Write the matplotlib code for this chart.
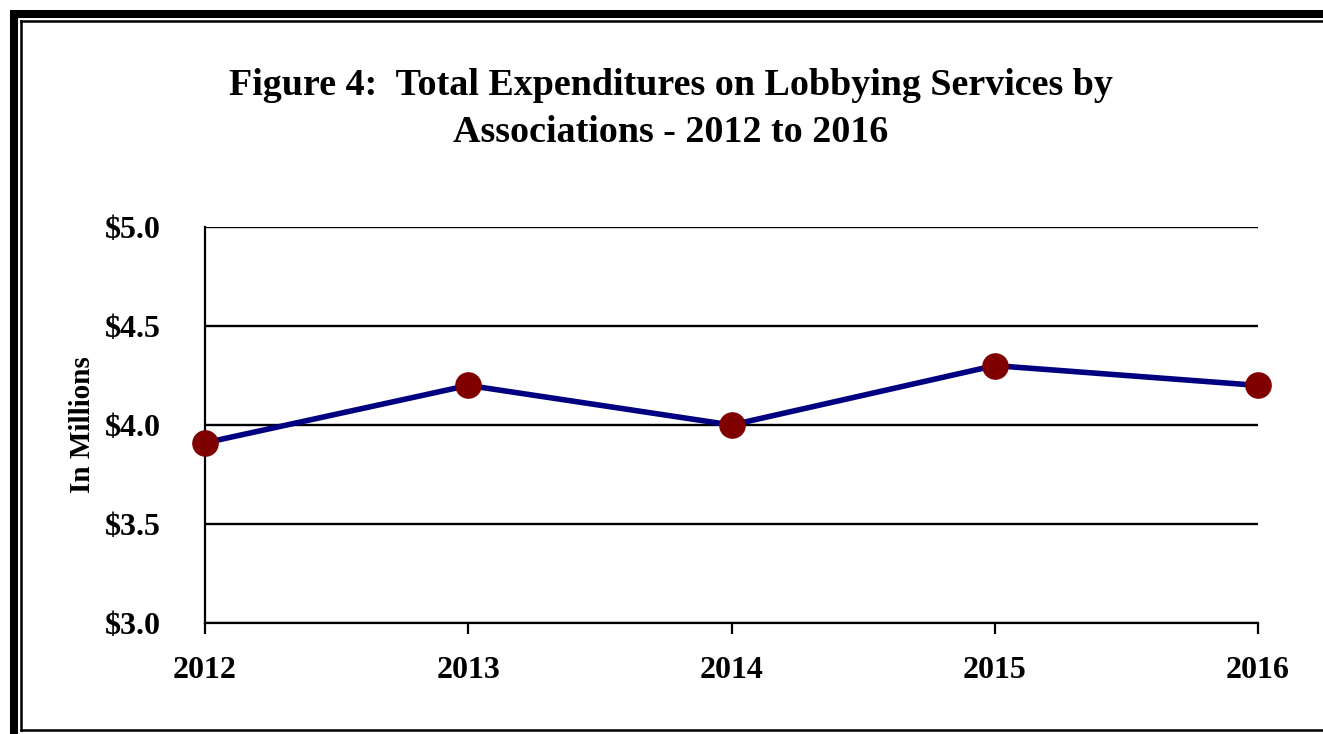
import numpy as np
import matplotlib.pyplot as plt
from matplotlib.lines import Line2D

# data
years = ['2012', '2013', '2014', '2015', '2016']
spend = [3.91, 4.2, 4.0, 4.3, 4.2]
yticks = [3.0, 3.5, 4.0, 4.5, 5.0]

plt.rcParams['font.family'] = ['Liberation Serif', 'DejaVu Serif']
plt.rcParams['font.weight'] = 'bold'
plt.rcParams['axes.labelweight'] = 'bold'

W, H = 1323, 734
fig = plt.figure(figsize=(W / 100, H / 100), dpi=100)

# frame: thick outer band plus thin inner line
fig.add_artist(Line2D([14 / W, 14 / W], [0, 1 - 10 / H], color='black', lw=5.8, solid_capstyle='butt'))
fig.add_artist(Line2D([10 / W, 1], [1 - 14 / H, 1 - 14 / H], color='black', lw=5.8, solid_capstyle='butt'))
fig.add_artist(Line2D([21 / W, 21 / W], [1 - 730 / H, 1 - 21 / H], color='black', lw=1.8))
fig.add_artist(Line2D([21 / W, 1], [1 - 21 / H, 1 - 21 / H], color='black', lw=1.8))
fig.add_artist(Line2D([21 / W, 1], [1 - 730 / H, 1 - 730 / H], color='black', lw=1.8))

ax = fig.add_axes([205 / W, 1 - 623 / H, (1258 - 205) / W, (623 - 227) / H])
x = np.arange(len(years))
ax.plot(x, spend, color='#000080', lw=4, zorder=3, clip_on=False)
ax.scatter(x, spend, s=330, color='#800000', zorder=4, clip_on=False)

ax.set_xlim(0, len(years) - 1)
ax.set_ylim(3.0, 5.0)
ax.set_xticks(x)
ax.set_xticklabels(years, fontsize=23)
ax.set_yticks(yticks)
ax.set_yticklabels(['$%.1f' % v for v in yticks], fontsize=23)
for v in yticks:
    ax.axhline(v, color='black', lw=1.7, zorder=1)
ax.tick_params(axis='y', length=0, pad=32)
ax.tick_params(axis='x', length=8, width=1.6, pad=16)
ax.spines['top'].set_visible(False)
ax.spines['right'].set_visible(False)
ax.spines['left'].set_linewidth(1.6)
ax.spines['bottom'].set_linewidth(1.6)
ax.set_ylabel('In Millions', fontsize=21, labelpad=6)

fig.text(0.507, 1 - 109 / H, 'Figure 4:  Total Expenditures on Lobbying Services by\nAssociations - 2012 to 2016',
         ha='center', va='center', fontsize=27.4, fontweight='bold', linespacing=1.42)

fig.savefig('out.png', dpi=100)
